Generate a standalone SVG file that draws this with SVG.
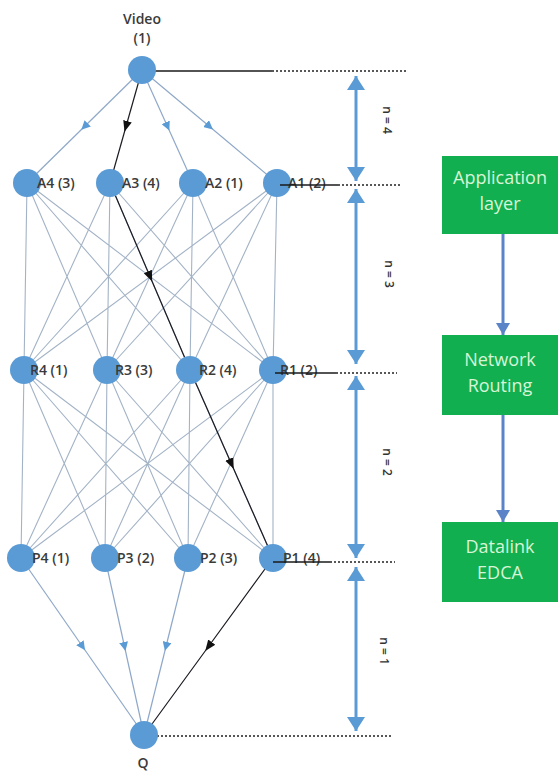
<svg xmlns="http://www.w3.org/2000/svg" width="560" height="774" viewBox="0 0 560 774">
<defs>
<marker id="ba" viewBox="0 0 10 10" refX="5" refY="5" markerWidth="9" markerHeight="9" markerUnits="userSpaceOnUse" orient="auto"><path d="M0,0 L10,5 L0,10 Z" fill="#5b9bd5"/></marker>
<marker id="ka" viewBox="0 0 10 10" refX="5" refY="5" markerWidth="11" markerHeight="11" markerUnits="userSpaceOnUse" orient="auto"><path d="M0,1 L10,5 L0,9 Z" fill="#111"/></marker>
<marker id="va" viewBox="0 0 10 10" refX="10" refY="5" markerWidth="14" markerHeight="18" markerUnits="userSpaceOnUse" orient="auto-start-reverse" preserveAspectRatio="none"><path d="M0,0 L10,5 L0,10 Z" fill="#5b9bd5"/></marker>
<marker id="ga" viewBox="0 0 10 10" refX="10" refY="5" markerWidth="12" markerHeight="14" markerUnits="userSpaceOnUse" orient="auto" preserveAspectRatio="none"><path d="M0,0 L10,5 L0,10 Z" fill="#5b84c8"/></marker>
</defs>
<style>
.mesh{stroke:#a3b3c6;stroke-width:1.1;fill:none}
.blue{stroke:#8fa8c8;stroke-width:1.2;fill:none;marker-mid:url(#ba)}
.path{stroke:#1a1a22;stroke-width:1.2;fill:none;marker-mid:url(#ka)}
.solid{stroke:#1a1a1a;stroke-width:1.6}
.dot{stroke:#222;stroke-width:1.4;stroke-dasharray:2 2}
.dim{stroke:#5b9bd5;stroke-width:3;marker-start:url(#va);marker-end:url(#va)}
.flow{stroke:#5b84c8;stroke-width:3;marker-end:url(#ga)}
.node{fill:#5b9bd5}
.lbl{font-family:"Open Sans","Liberation Sans",sans-serif;font-size:14px;font-weight:600;fill:#3a3a3a}
.nlbl{font-family:"Open Sans","Liberation Sans",sans-serif;font-size:12px;font-weight:600;fill:#333}
.box{fill:#12af50}
.btxt{font-family:"Open Sans","Liberation Sans",sans-serif;font-size:18px;fill:#d6f5d6;text-anchor:middle}
</style>
<rect width="560" height="774" fill="#fff"/>
<g id="connectors">
<path class="mesh" d="M27,183L24,370 M27,183L107,370 M27,183L190,370 M27,183L273,370
M110,183L24,370 M110,183L107,370 M110,183L190,370 M110,183L273,370
M193,183L24,370 M193,183L107,370 M193,183L190,370 M193,183L273,370
M277,183L24,370 M277,183L107,370 M277,183L190,370 M277,183L273,370"/>
<path class="mesh" d="M24,370L21,558 M24,370L105,558 M24,370L188,558 M24,370L273,558
M107,370L21,558 M107,370L105,558 M107,370L188,558 M107,370L273,558
M190,370L21,558 M190,370L105,558 M190,370L188,558 M190,370L273,558
M273,370L21,558 M273,370L105,558 M273,370L188,558 M273,370L273,558"/>
<polyline class="blue" points="142,70 84.5,126.5 27,183"/>
<polyline class="blue" points="142,70 167.5,126.5 193,183"/>
<polyline class="blue" points="142,70 209.5,126.5 277,183"/>
<polyline class="blue" points="21,558 82.5,646.5 144,735"/>
<polyline class="blue" points="105,558 124.5,646.5 144,735"/>
<polyline class="blue" points="188,558 166,646.5 144,735"/>
<polyline class="path" points="142,70 126,126.5 110,183"/>
<polyline class="path" points="110,183 150,276.5 190,370"/>
<polyline class="path" points="190,370 231.5,464 273,558"/>
<polyline class="path" points="273,558 208.5,646.5 144,735"/>
<line class="solid" x1="143" y1="71" x2="272" y2="71"/>
<line class="dot" x1="272" y1="71" x2="408" y2="71"/>
<line class="dot" x1="338" y1="185" x2="400" y2="185"/>
<line class="dot" x1="336" y1="373" x2="397" y2="373"/>
<line class="dot" x1="330" y1="562" x2="395" y2="562"/>
<line class="dot" x1="145" y1="736" x2="392" y2="736"/>
<line class="dim" x1="356" y1="76" x2="356" y2="181"/>
<line class="dim" x1="356" y1="189" x2="356" y2="364"/>
<line class="dim" x1="356" y1="376" x2="356" y2="558"/>
<line class="dim" x1="356" y1="567" x2="356" y2="731"/>
<line class="flow" x1="503" y1="234" x2="503" y2="335"/>
<line class="flow" x1="503" y1="415" x2="503" y2="522"/>
</g>
<g id="video">
<circle class="node" cx="142" cy="70" r="14"/>
<text class="lbl" x="142" y="24" text-anchor="middle">Video</text>
<text class="lbl" x="142" y="43" text-anchor="middle">(1)</text>
</g>
<g id="A4"><circle class="node" cx="27" cy="183" r="14"/><text class="lbl" x="37" y="188">A4 (3)</text></g>
<g id="A3"><circle class="node" cx="110" cy="183" r="14"/><text class="lbl" x="122" y="188">A3 (4)</text></g>
<g id="A2"><circle class="node" cx="193" cy="183" r="14"/><text class="lbl" x="205" y="188">A2 (1)</text></g>
<g id="A1"><circle class="node" cx="277" cy="183" r="14"/><text class="lbl" x="288" y="188">A1 (2)</text></g>
<g id="R4"><circle class="node" cx="24" cy="370" r="14"/><text class="lbl" x="30" y="375">R4 (1)</text></g>
<g id="R3"><circle class="node" cx="107" cy="370" r="14"/><text class="lbl" x="115" y="375">R3 (3)</text></g>
<g id="R2"><circle class="node" cx="190" cy="370" r="14"/><text class="lbl" x="199" y="375">R2 (4)</text></g>
<g id="R1"><circle class="node" cx="273" cy="370" r="14"/><text class="lbl" x="280" y="375">R1 (2)</text></g>
<g id="P4"><circle class="node" cx="21" cy="558" r="14"/><text class="lbl" x="32" y="563">P4 (1)</text></g>
<g id="P3"><circle class="node" cx="105" cy="558" r="14"/><text class="lbl" x="117" y="563">P3 (2)</text></g>
<g id="P2"><circle class="node" cx="188" cy="558" r="14"/><text class="lbl" x="200" y="563">P2 (3)</text></g>
<g id="P1"><circle class="node" cx="273" cy="558" r="14"/><text class="lbl" x="283" y="563">P1 (4)</text></g>
<g id="Q"><circle class="node" cx="144" cy="735" r="14"/><text class="lbl" x="143" y="768" text-anchor="middle">Q</text></g>
<g id="strikes">
<line class="solid" x1="280" y1="185" x2="338" y2="185"/>
<line class="solid" x1="275" y1="373" x2="336" y2="373"/>
<line class="solid" x1="273" y1="562" x2="330" y2="562"/>
</g>
<g id="nlabels">
<text class="nlbl" transform="translate(386,120) rotate(90)" text-anchor="middle" dominant-baseline="middle">n = 4</text>
<text class="nlbl" transform="translate(388,274) rotate(90)" text-anchor="middle" dominant-baseline="middle">n = 3</text>
<text class="nlbl" transform="translate(386,462) rotate(90)" text-anchor="middle" dominant-baseline="middle">n = 2</text>
<text class="nlbl" transform="translate(383,651) rotate(90)" text-anchor="middle" dominant-baseline="middle">n = 1</text>
</g>
<g id="app"><rect class="box" x="442" y="156" width="116" height="78"/><text class="btxt" x="500" y="184">Application</text><text class="btxt" x="500" y="210">layer</text></g>
<g id="net"><rect class="box" x="442" y="335" width="116" height="80"/><text class="btxt" x="500" y="366">Network</text><text class="btxt" x="500" y="392">Routing</text></g>
<g id="dl"><rect class="box" x="442" y="522" width="116" height="80"/><text class="btxt" x="500" y="553">Datalink</text><text class="btxt" x="500" y="579">EDCA</text></g>
</svg>
